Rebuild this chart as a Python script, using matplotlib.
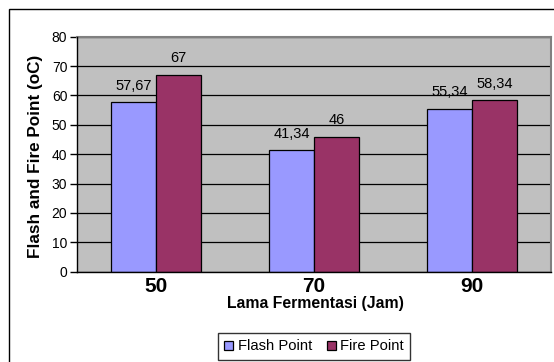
import matplotlib
matplotlib.use("Agg")
import matplotlib.pyplot as plt
from matplotlib.patches import Rectangle
import numpy as np

plt.rcParams['font.family'] = ['Liberation Sans', 'DejaVu Sans']

categories = ['50', '70', '90']
flash_point = [57.67, 41.34, 55.34]
fire_point = [67, 46, 58.34]
flash_labels = ['57,67', '41,34', '55,34']
fire_labels = ['67', '46', '58,34']
yticks = [0, 10, 20, 30, 40, 50, 60, 70, 80]

W, H = 554, 362
fig = plt.figure(figsize=(W / 100, H / 100), dpi=100)
fig.patch.set_facecolor('white')

# outer chart frame (extends past right/bottom edges)
fig.patches.append(Rectangle((8.5 / W, -0.1), 1.2, (H - 9) / H + 0.1,
                             transform=fig.transFigure, fill=False,
                             edgecolor='black', linewidth=1.0))

ax = fig.add_axes([77 / W, (H - 271.7) / H, (551 - 77) / W, (271.7 - 36.7) / H])
ax.set_facecolor('#C0C0C0')

x = np.arange(len(categories))
bw = 0.286
b1 = ax.bar(x - bw / 2, flash_point, bw, color='#9999FF', edgecolor='black',
            linewidth=0.9, label='Flash Point', zorder=3)
b2 = ax.bar(x + bw / 2, fire_point, bw, color='#993366', edgecolor='black',
            linewidth=0.9, label='Fire Point', zorder=3)

for rect, lab in zip(b1, flash_labels):
    ax.annotate(lab, (rect.get_x() + rect.get_width() / 2, rect.get_height()),
                xytext=(0, 7), textcoords='offset points', ha='center',
                va='bottom', fontsize=10.5)
for rect, lab in zip(b2, fire_labels):
    ax.annotate(lab, (rect.get_x() + rect.get_width() / 2, rect.get_height()),
                xytext=(0, 7), textcoords='offset points', ha='center',
                va='bottom', fontsize=10.5)

ax.set_xlim(-0.5, len(categories) - 0.5)
ax.set_ylim(0, 80)
ax.set_yticks(yticks)
ax.set_yticklabels([str(v) for v in yticks], fontsize=10)
ax.set_xticks(x)
ax.set_xticklabels(categories, fontsize=15, fontweight='bold')
ax.tick_params(axis='x', length=0, pad=4)
ax.tick_params(axis='y', length=5, width=1, pad=2, direction='out')
ax.yaxis.grid(True, color='black', linewidth=0.9, zorder=1)
ax.set_axisbelow(True)

for s in ['top', 'right']:
    ax.spines[s].set_color('#808080')
    ax.spines[s].set_linewidth(1.5)
for s in ['left', 'bottom']:
    ax.spines[s].set_color('black')
    ax.spines[s].set_linewidth(1.0)
    ax.spines[s].set_zorder(4)

fig.text(315 / W, 1 - 303.5 / H, 'Lama Fermentasi (Jam)', ha='center', va='center',
         fontsize=11.3, fontweight='bold')
fig.text(35.5 / W, 1 - 156 / H, 'Flash and Fire Point (oC)', ha='center', va='center',
         rotation=90, fontsize=12.3, fontweight='bold')

leg = fig.legend(handles=[b1, b2], labels=['Flash Point', 'Fire Point'],
                 loc='center', bbox_to_anchor=(314 / W, 1 - 346.5 / H),
                 ncol=2, fontsize=10.6, frameon=True, fancybox=False,
                 handlelength=0.6, handleheight=0.6, handletextpad=0.3,
                 columnspacing=1.0, borderpad=0.45, borderaxespad=0)
leg.get_frame().set_edgecolor('black')
leg.get_frame().set_linewidth(1.0)

fig.savefig('out.png', dpi=100)
